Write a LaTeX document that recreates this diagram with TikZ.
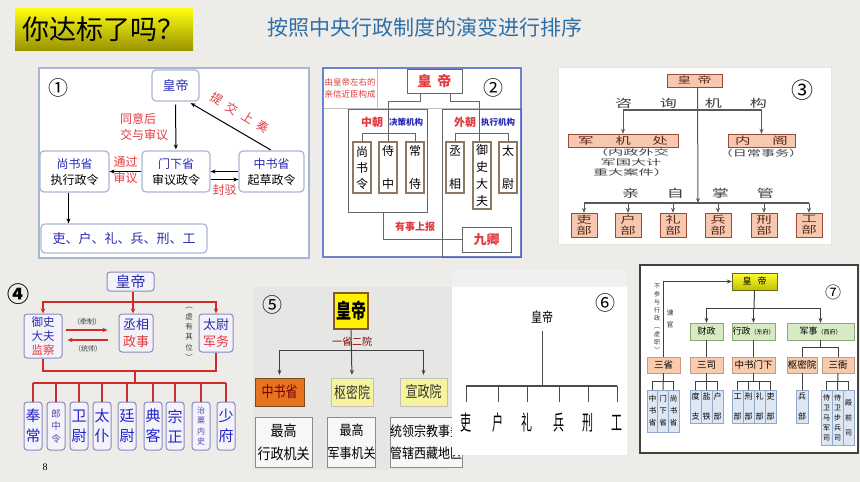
\documentclass[tikz,border=0pt]{standalone}
\usepackage{fontspec}
\setmainfont{Noto Sans CJK SC}
\newfontfamily\numfont{Liberation Serif}
\usepackage{xcolor}
\usetikzlibrary{arrows.meta}
\definecolor{pagebg}{HTML}{EEECE9}
\definecolor{titletop}{HTML}{FFFF10}
\definecolor{titlebot}{HTML}{9A9400}
\definecolor{subblue}{HTML}{2F6FA8}
\definecolor{navy}{HTML}{2A2AB4}
\definecolor{redtxt}{HTML}{E23A40}
\definecolor{frameone}{HTML}{A9B6D3}
\definecolor{frametwo}{HTML}{6E82D2}
\definecolor{brownline}{HTML}{8C7A66}
\definecolor{salmon}{HTML}{F6C8B0}
\definecolor{salmonline}{HTML}{9C4A36}
\definecolor{maroon}{HTML}{5E2A20}
\definecolor{redline}{HTML}{D22B2B}
\definecolor{linefour}{HTML}{8A8AC0}
\definecolor{fillfour}{HTML}{F3F3F9}
\definecolor{bigblue}{HTML}{2222CC}
\definecolor{purpletxt}{HTML}{5C45B0}
\definecolor{orangebox}{HTML}{E8731E}
\definecolor{paleyellow}{HTML}{F8F49C}
\definecolor{panelgray}{HTML}{E6E6E4}
\definecolor{greenbox}{HTML}{D6EAC4}
\definecolor{greenline}{HTML}{8CAA7A}
\definecolor{peach}{HTML}{F9CBAE}
\definecolor{peachline}{HTML}{C89A80}
\definecolor{paleblue}{HTML}{DDE7F4}
\definecolor{blueline}{HTML}{92A8CA}
\newcommand\pz[2]{\fontsize{#1}{#2}\selectfont}
\newcommand\hwide[2][1.55]{\scalebox{#1}[1]{#2}}
\newcommand\vtall[2][1.3]{\scalebox{1}[#1]{#2}}
\tikzset{
  arr/.style={-{Stealth[length=5pt,width=4pt]}, line width=1},
  arrred/.style={-{Stealth[length=5pt,width=4.5pt]}, line width=1.3, redline},
  boxone/.style={draw=frameone, line width=1.2, rounded corners=4, fill=white,
    align=center, inner sep=0pt, font=\pz{12}{16}},
  redlab/.style={text=redtxt, align=left, inner sep=0pt, font=\pz{12}{16}},
  boxtwo/.style={draw=brownline, line width=1.2, fill=white, align=center,
    inner sep=0pt, minimum width=18, font=\pz{12}{16}},
  zhu/.style={draw=salmonline, fill=salmon, inner sep=0pt, align=center, text=maroon},
  ptxt/.style={inner sep=0pt, text=black!75, align=center},
  sboxfour/.style={draw=linefour, fill=fillfour, rounded corners=3, line width=1,
    inner sep=0pt, align=center},
  bigfour/.style={sboxfour, minimum width=18, minimum height=48, text=bigblue, font=\pz{15}{20}},
  smallfour/.style={sboxfour, minimum width=18, minimum height=48, text=purpletxt, font=\pz{9.5}{12.5}},
  txtfive/.style={draw=black!45, fill=black!3, inner sep=0pt, align=center, minimum height=50},
  greenb/.style={draw=greenline, fill=greenbox, inner sep=0pt, minimum height=17, font=\pz{9}{9}},
  peachb/.style={draw=peachline, fill=peach, inner sep=0pt, minimum height=16, font=\pz{9.5}{9.5}},
  blueb/.style={draw=blueline, fill=paleblue, inner sep=0pt, minimum width=11, align=center}
}
\begin{document}
\begin{tikzpicture}[x=1pt,y=-1pt]
\useasboundingbox (0,0) rectangle (860,482);
\fill[pagebg] (0,0) rectangle (860,482);
\node[top color=titletop, bottom color=titlebot, minimum width=178, minimum height=42,
  inner sep=0pt, font=\pz{27}{27}] (title) at (104,29) {你达标了吗？};
\node[text=subblue, inner sep=0pt, font=\pz{21}{21}] (task) at (425,27) {按照中央行政制度的演变进行排序};

\draw[frameone, line width=1.5, fill=white] (39,68) rectangle (309,258);
\node[inner sep=0pt, font=\pz{20}{20}] (n1) at (58,88) {①};
\node[boxone, minimum width=47, minimum height=31, text=navy, font=\pz{13}{13}] (emp1) at (175.5,85.5) {皇帝};
\node[boxone, minimum width=69, minimum height=41] (shangshu) at (74.5,171.5) {{\color{navy}尚书省}\\执行政令};
\node[boxone, minimum width=68, minimum height=41] (menxia) at (176,171.5) {{\color{navy}门下省}\\审议政令};
\node[boxone, minimum width=65, minimum height=41] (zhongshu) at (271.5,171.5) {{\color{navy}中书省}\\起草政令};
\node[boxone, minimum width=166, minimum height=29, text=navy, font=\pz{13}{13}] (liubu1) at (124,238.5) {吏、户、礼、兵、刑、工};
\draw[arr, shorten <=3, shorten >=1] (emp1) -- (menxia);
\draw[arr, shorten <=1, shorten >=3] (zhongshu.north) -- (emp1.-52);
\draw[arr] (zhongshu.west) -- (menxia.east);
\draw[arr] ([yshift=-8]menxia.east) -- ([yshift=-8]zhongshu.west);
\draw[arr] (menxia.west) -- (shangshu.east);
\draw[arr] ([xshift=-6]shangshu.south) -- ([xshift=-6]shangshu.south |- liubu1.north);
\node[redlab, rotate=-31] (tijiao) at (240,113) {提\hspace{6pt}交\hspace{6pt}上\hspace{6pt}奏};
\node[redlab, anchor=west] (tongyi) at (120,127) {同意后\\交与审议};
\node[redlab, align=center] (tongguo) at (125.5,170) {通过\\审议};
\node[redlab] (fengbo) at (224.5,190) {封驳};

\fill[white] (323,68) rectangle (521,257);
\node[inner sep=0pt, minimum width=54, minimum height=40, align=center, text=redtxt,
  font=\pz{8.5}{12}] (note2) at (350,88) {由皇帝左右的\\亲信近臣构成};
\draw[black!25] (note2.north east) -- (note2.south east);
\draw[black!25] (323,108) -- (521,108);
\draw[frametwo, line width=1.2] (323,68) rectangle (521,257);
\node[draw=black!60, line width=1, fill=white, minimum width=55, minimum height=24,
  text=redtxt, font=\bfseries\pz{14}{14}] (emp2) at (434.5,81) {皇\hspace{6pt}帝};
\node[draw=black!60, line width=1, minimum width=79, minimum height=103] (zhongchao) at (387.5,160.5) {};
\node[draw=black!60, line width=1, minimum width=79, minimum height=148] (waichao) at (481.5,183) {};
\node[boxtwo, minimum height=51] (shangshuling) at (362,167.5) {尚\\书\\令};
\node[boxtwo, minimum height=51] (shizhong) at (388,167.5) {侍\\[17pt]中};
\node[boxtwo, minimum height=51] (changshi) at (415,167.5) {常\\[17pt]侍};
\node[boxtwo, minimum height=51] (chengxiang) at (455,167.5) {丞\\[17pt]相};
\node[boxtwo, minimum height=67, font=\pz{12}{17}] (yushi) at (482,175.5) {御\\史\\大\\夫};
\node[boxtwo, minimum height=51] (taiwei) at (508,167.5) {太\\[17pt]尉};
\draw[black!60, line width=1] ([xshift=-14]emp2.south) -- ++(0,8) -| (shizhong.north);
\draw[black!60, line width=1] ([xshift=16]emp2.south) -- ++(0,8) -| ([xshift=-3]yushi.north);
\draw[black!60, line width=1] (shangshuling.north) -- ++(0,-8) -| (changshi.north);
\draw[black!60, line width=1] (chengxiang.north) -- ++(0,-8) -| (taiwei.north);
\node[inner sep=0pt, text=redtxt, font=\bfseries\pz{11}{11}] (zclab) at (372,122) {中朝};
\node[inner sep=0pt, text=navy, font=\bfseries\pz{8.5}{9}] (zcnote) at (406,122) {决策机构};
\node[inner sep=0pt, text=redtxt, font=\bfseries\pz{11}{11}] (wclab) at (465,122) {外朝};
\node[inner sep=0pt, text=navy, font=\bfseries\pz{8.5}{9}] (wcnote) at (498,122) {执行机构};
\node[draw=black!60, line width=1, fill=white, minimum width=49, minimum height=25,
  text=redtxt, font=\bfseries\pz{13}{13}] (jiuqing) at (486.5,239.5) {九卿};
\draw[black!60, line width=1] ([xshift=-4.5]zhongchao.south) |- (jiuqing.west);
\node[inner sep=0pt, text=redtxt, font=\bfseries\pz{10}{10}] (shangbao) at (415,227) {有事上报};
\node[inner sep=0pt, font=\pz{20}{20}] (n2) at (493,88) {②};

\draw[black!10, fill=white] (558,67) rectangle (831,244);
\node[inner sep=0pt, font=\pz{22}{22}] (n3) at (802,90) {③};
\node[zhu, minimum width=55, minimum height=13, font=\pz{9}{9}] (emp3) at (694.5,80.5) {\hwide{皇\hspace{4pt}帝}};
\node[zhu, minimum width=110, minimum height=13, font=\pz{10}{10}] (junji) at (623,140.5) {\hwide{军\hspace{14pt}机\hspace{14pt}处}};
\node[zhu, minimum width=67, minimum height=13, font=\pz{10}{10}] (neige) at (761.5,140.5) {\hwide{内\hspace{14pt}阁}};
\node[ptxt, font=\pz{11}{11}] (zixun) at (691,103) {\hwide{咨\hspace{18pt}询\hspace{18pt}机\hspace{18pt}构}};
\node[ptxt, font=\pz{11}{11}] (qinzi) at (698,193) {\hwide{亲\hspace{18pt}自\hspace{18pt}掌\hspace{18pt}管}};
\node[ptxt, font=\pz{8}{9.6}] (junjinote) at (631,162.5) {\hwide[1.9]{（内政外交}\\\hwide[1.9]{军国大计}\\\hwide[1.9]{重大案件）}};
\node[ptxt, font=\pz{8.5}{8.5}] (neigenote) at (761,153.5) {\hwide[1.65]{（日常事务）}};
\foreach \x/\n/\t in {584/lb3/吏, 628/hb3/户, 673/rb3/礼, 718/bb3/兵, 764/xb3/刑, 809/gb3/工}
  \node[zhu, minimum width=26, minimum height=24, font=\pz{10}{11}] (\n) at (\x,225) {\hwide{\t}\\\hwide{部}};
\coordinate (ask3) at (698,110);
\coordinate (bus3) at (698,203);
\draw[black!65, line width=1.1] (junji.north |- ask3) -- (neige.north |- ask3);
\draw[arr, black!65] (junji.north |- ask3) -- (junji.north);
\draw[arr, black!65] (neige.north |- ask3) -- (neige.north);
\draw[arr, black!65] ([xshift=3]emp3.south) -- (bus3);
\draw[black!65, line width=1.1] (lb3.north |- bus3) -- (gb3.north |- bus3);
\foreach \n in {lb3, hb3, rb3, bb3, xb3, gb3}
  \draw[arr, black!65] (\n.north |- bus3) -- (\n.north);

\node[inner sep=0pt, font=\bfseries\pz{22}{22}] (n4) at (18,294) {④};
\node[sboxfour, minimum width=47, minimum height=19, text=navy, font=\pz{15}{15}] (emp4) at (130.5,281.5) {皇帝};
\node[sboxfour, minimum width=38, minimum height=44, text=navy, font=\pz{11.5}{14}] (yushi4) at (43,336) {御史\\大夫\\{\color{redtxt}监察}};
\node[sboxfour, minimum width=34, minimum height=38, text=navy, font=\pz{13}{17}] (cx4) at (136,333) {丞相\\{\color{redtxt}政事}};
\node[sboxfour, minimum width=34, minimum height=38, text=navy, font=\pz{13}{17}] (tw4) at (216,333) {太尉\\{\color{redtxt}军务}};
\coordinate (split4) at (133,302);
\draw[arrred] (emp4.south -| split4) -- (cx4.north -| split4);
\draw[arrred] (split4) -| (yushi4.north);
\draw[arrred] (split4) -| (tw4.north);
\draw[arrred, shorten <=3, shorten >=11] ([yshift=6]yushi4.east) -- ([yshift=6]yushi4.east -| cx4.west);
\draw[arrred, shorten <=11, shorten >=5] ([yshift=-4]yushi4.east -| cx4.west) -- ([yshift=-4]yushi4.east);
\node[ptxt, font=\pz{7}{7}] (qianzhi) at (87,322) {（牵制）};
\node[ptxt, font=\pz{7}{7}] (tongshuai) at (88,349) {（统帅）};
\node[ptxt, font=\pz{7.5}{10.4}] (xuwei) at (189,334) {︵\\虚\\有\\其\\位\\︶};
\node[bigfour] (fengchang) at (33,426) {奉\\常};
\node[smallfour] (langzhong) at (56,426) {郎\\中\\令};
\node[bigfour] (weiwei) at (79,426) {卫\\尉};
\node[bigfour] (taipu) at (102,426) {太\\仆};
\node[bigfour] (tingwei) at (127,426) {廷\\尉};
\node[bigfour] (dianke) at (153,426) {典\\客};
\node[bigfour] (zongzheng) at (175,426) {宗\\正};
\node[smallfour, font=\pz{8}{10.3}] (zhisu) at (201,426) {治\\粟\\内\\史};
\node[bigfour] (shaofu) at (226,426) {少\\府};
\coordinate (join4) at (135,371);
\coordinate (bus4) at (135,383);
\draw[redline, line width=1.3] (yushi4.south) |- (join4) -| (tw4.south);
\draw[redline, line width=1.3] (join4) -- (bus4);
\draw[redline, line width=1.3] (fengchang.north |- bus4) -- (shaofu.north |- bus4);
\foreach \n in {fengchang, langzhong, weiwei, taipu, tingwei, dianke, zongzheng, zhisu, shaofu}
  \draw[redline, line width=1.3] (\n.north |- bus4) -- (\n.north);
\node[inner sep=0pt, font=\numfont\pz{10}{10}] (pageno) at (45,467) {8};

\fill[panelgray] (253,287) rectangle (452,470);
\node[inner sep=0pt, font=\pz{20}{20}] (n5) at (272,305) {⑤};
\node[draw=brown!70!black, line width=1.5, fill=yellow, minimum width=34, minimum height=36,
  inner sep=0pt, font=\bfseries\pz{15}{15}] (emp5) at (351,311) {\vtall[1.35]{皇帝}};
\node[draw=brown!60!black, fill=orangebox, minimum width=49, minimum height=28, inner sep=0pt,
  text=red!45!black, font=\pz{12}{12}] (zsh5) at (279.5,392) {\vtall{中书省}};
\node[draw=black!25, fill=paleyellow, minimum width=42, minimum height=28, inner sep=0pt,
  text=black!80, font=\pz{12}{12}] (smy5) at (352,392) {\vtall{枢密院}};
\node[draw=black!25, fill=paleyellow, minimum width=47, minimum height=28, inner sep=0pt,
  text=black!80, font=\pz{12}{12}] (xzy5) at (423.5,392) {\vtall{宣政院}};
\coordinate (bus5) at (352,350);
\draw[arr, black!75, shorten >=3] (emp5.south) -- (smy5.north);
\draw[black!75, line width=1] (zsh5.north |- bus5) -- (xzy5.north |- bus5);
\draw[arr, black!75, shorten >=3] (zsh5.north |- bus5) -- (zsh5.north);
\draw[arr, black!75, shorten >=3] (xzy5.north |- bus5) -- (xzy5.north);
\node[inner sep=0pt, text=red!55!black, font=\pz{10}{10}] (yisheng) at (352,342) {一省二院};
\node[txtfive, minimum width=57, font=\pz{13}{23}] (zg5a) at (283.5,442) {\vtall[1.15]{最高}\\\vtall[1.15]{行政机关}};
\node[txtfive, minimum width=47, font=\pz{12}{23}] (zg5b) at (351.5,442) {\vtall[1.15]{最高}\\\vtall[1.15]{军事机关}};
\node[txtfive, minimum width=72, font=\pz{12}{22}] (zg5c) at (426,442) {\vtall[1.15]{统领宗教事务}\\\vtall[1.15]{管辖西藏地区}};

\fill[black!6] (452,270) rectangle (627,287);
\fill[white] (452,287) rectangle (627,455);
\node[inner sep=0pt, font=\pz{20}{20}] (n6) at (605,303) {⑥};
\node[inner sep=0pt, font=\pz{11}{11}] (emp6) at (542,317) {\vtall[1.25]{皇帝}};
\foreach \x/\n/\t in {466/li6/吏, 498/hu6/户, 527/ri6/礼, 559/bi6/兵, 588/xi6/刑, 617/go6/工}
  \node[inner sep=0pt, font=\pz{11}{11}] (\n) at (\x,423) {\vtall[1.9]{\t}};
\coordinate (bus6) at (542,386);
\draw[black!70, line width=1] (emp6.south) ++(0,7) -- (bus6);
\draw[black!70, line width=2.5] (li6.north |- bus6) -- (go6.north |- bus6);
\foreach \n in {li6, hu6, ri6, bi6, xi6, go6}
  \draw[black!70, line width=1] (\n.north |- bus6) -- ++(0,16);

\draw[black!75, line width=1.5, fill=white] (640,265) rectangle (858,453);
\node[inner sep=0pt, font=\pz{16}{16}] (n7) at (833,292) {⑦};
\node[draw=olive!70!black, top color=yellow!80!white, bottom color=yellow!75!black, minimum width=45,
  minimum height=17, inner sep=0pt, font=\pz{9}{9}] (emp7) at (754.5,281.5) {皇\hspace{6pt}帝};
\node[greenb, minimum width=33] (cz7) at (706.5,331.5) {财政};
\node[greenb, minimum width=43] (xz7) at (753.5,331.5) {行政{\pz{6}{6}（东府）}};
\node[greenb, minimum width=67] (js7) at (820.5,331.5) {军事{\pz{6}{6}（西府）}};
\node[peachb, minimum width=33] (ss7) at (663.5,365) {三省};
\node[peachb, minimum width=33] (sansi7) at (706.5,365) {三司};
\node[peachb, minimum width=43] (zsmx7) at (753.5,365) {中书门下};
\node[peachb, minimum width=30] (smy7) at (802,365) {枢密院};
\node[peachb, minimum width=32] (sy7) at (838,365) {三衙};
\coordinate (bus7) at (754,308);
\draw[black!75, line width=1] (emp7.south) -- (bus7);
\draw[black!75, line width=1] (cz7.north |- bus7) -- (js7.north |- bus7);
\foreach \n in {cz7, xz7, js7}
  \draw[arr, black!75] (\n.north |- bus7) -- (\n.north);
\draw[black!75, line width=1] (cz7) -- (sansi7);
\draw[black!75, line width=1] (xz7) -- (zsmx7);
\draw[black!75, line width=1] (js7.south) -- ++(0,7) coordinate (j7);
\draw[black!75, line width=1] (smy7.north |- j7) -- (sy7.north |- j7);
\draw[black!75, line width=1] (smy7.north |- j7) -- (smy7.north);
\draw[black!75, line width=1] (sy7.north |- j7) -- (sy7.north);
\draw[arr, black!75] (ss7.north) |- (emp7.west);
\node[ptxt, text=black!80, font=\pz{6}{8}] (buyu) at (657,318) {不\\参\\与\\行\\政\\︵\\虚\\职\\︶};
\node[ptxt, text=black!80, font=\pz{7}{12}] (jianguan) at (670,319) {谏\\官};
\node[blueb, minimum height=42, font=\pz{7.5}{12}] (zs7) at (652.5,411) {中\\书\\省};
\node[blueb, minimum height=42, font=\pz{7.5}{12}] (mx7) at (663,411) {门\\下\\省};
\node[blueb, minimum height=42, font=\pz{7.5}{12}] (sh7) at (673.5,411) {尚\\书\\省};
\node[blueb, minimum height=33, font=\pz{8}{20}] (dz7) at (695.5,406.5) {度\\支};
\node[blueb, minimum height=33, font=\pz{8}{20}] (yt7) at (706.5,406.5) {盐\\铁};
\node[blueb, minimum height=33, font=\pz{8}{20}] (hb7) at (717.5,406.5) {户\\部};
\node[blueb, minimum height=33, font=\pz{8}{20}] (gb7) at (737.5,406.5) {工\\部};
\node[blueb, minimum height=33, font=\pz{8}{20}] (xb7) at (748.5,406.5) {刑\\部};
\node[blueb, minimum height=33, font=\pz{8}{20}] (lb7) at (759.5,406.5) {礼\\部};
\node[blueb, minimum height=33, font=\pz{8}{20}] (lib7) at (770.5,406.5) {吏\\部};
\node[blueb, minimum width=12, minimum height=33, font=\pz{8}{20}] (bb7) at (802,406.5) {兵\\部};
\node[blueb, minimum height=55, font=\pz{7}{10}] (mj7) at (826.5,417.5) {侍\\卫\\马\\军\\司};
\node[blueb, minimum height=55, font=\pz{7}{10}] (bj7) at (837.5,417.5) {侍\\卫\\步\\兵\\司};
\node[blueb, minimum height=55, font=\pz{7}{15}] (dq7) at (848.5,417.5) {殿\\前\\司};
\draw[black!75, line width=1] (ss7.south) -- (mx7.north);
\draw[black!75, line width=1] (zs7.north) -- ++(0,-8) -| (sh7.north);
\draw[black!75, line width=1] (sansi7.south) -- (yt7.north);
\draw[black!75, line width=1] (dz7.north) -- ++(0,-8) -| (hb7.north);
\draw[black!75, line width=1] (zsmx7.south) -- ++(0,9);
\draw[black!75, line width=1] (gb7.north) -- ++(0,-8) -| (lib7.north);
\draw[black!75, line width=1] (xb7.north) -- ++(0,-8);
\draw[black!75, line width=1] (lb7.north) -- ++(0,-8);
\draw[black!75, line width=1] (smy7.south) -- (bb7.north);
\draw[black!75, line width=1] (sy7.south) -- (bj7.north);
\draw[black!75, line width=1] (mj7.north) -- ++(0,-8) -| (dq7.north);
\end{tikzpicture}
\end{document}
